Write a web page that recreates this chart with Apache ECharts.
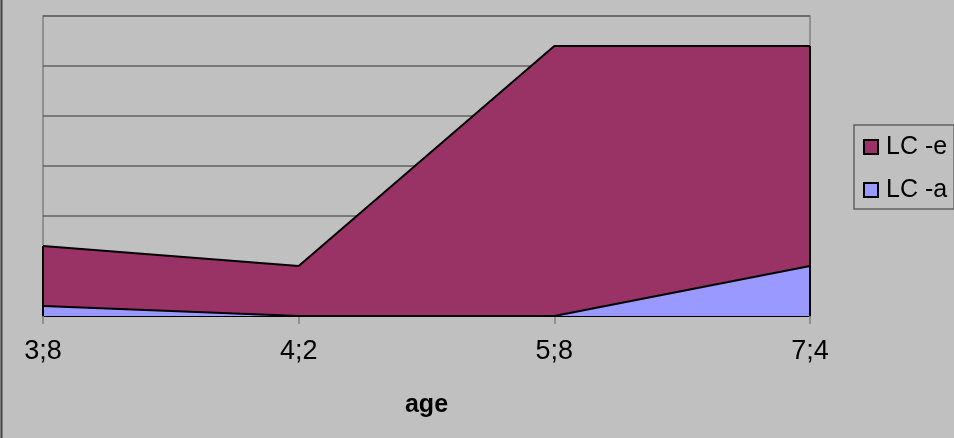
<!DOCTYPE html>
<html>
<head>
<meta charset="utf-8">
<script src="https://cdn.jsdelivr.net/npm/echarts@6/dist/echarts.min.js"></script>
<style>
  html, body { margin: 0; padding: 0; background: #c0c0c0; }
  #chart { width: 954px; height: 438px; }
</style>
</head>
<body>
<div id="chart"></div>
<script>
// Ages at which the samples were taken
const ages = ['3;8', '4;2', '5;8', '7;4'];
// Stacked series values (LC -a at the bottom, LC -e stacked on top)
const lcA = [0.2, 0, 0, 1.0];
const lcE = [1.2, 1.0, 5.4, 4.4];
const yMax = 6;
const yStep = 1;

const totals = ages.map((_, i) => lcA[i] + lcE[i]);

const chart = echarts.init(document.getElementById('chart'), null, { renderer: 'canvas' });

// Vertical outline of the stacked area at a given category
const edgeLine = (i) => [
  { coord: [ages[i], 0] },
  { coord: [ages[i], totals[i]] }
];

chart.setOption({
  backgroundColor: '#c0c0c0',
  animation: false,
  textStyle: { fontFamily: '"Liberation Sans", Arial, sans-serif' },
  graphic: [{
    type: 'line',
    shape: { x1: 1.5, y1: 0, x2: 1.5, y2: 438 },
    style: { stroke: '#404040', lineWidth: 2 }
  }],
  grid: {
    left: 43, right: 144, top: 16, bottom: 122,
    show: true, borderColor: '#808080', borderWidth: 1.5,
    backgroundColor: 'transparent'
  },
  legend: {
    orient: 'vertical',
    left: 854, top: 125,
    data: ['LC -e', 'LC -a'],
    icon: 'rect',
    itemWidth: 14, itemHeight: 14,
    itemGap: 15,
    padding: [8, 7, 5, 9],
    backgroundColor: '#c0c0c0',
    borderColor: '#606060',
    borderWidth: 1.5,
    itemStyle: { borderColor: '#000', borderWidth: 2 },
    textStyle: { fontSize: 25, color: '#000', lineHeight: 28, padding: [0, 0, 0, 3],
                 fontFamily: '"Liberation Sans", Arial, sans-serif' }
  },
  xAxis: {
    type: 'category',
    data: ages,
    boundaryGap: false,
    name: 'age',
    nameLocation: 'middle',
    nameGap: 77,
    nameTextStyle: { fontSize: 25, fontWeight: 'bold', color: '#000' },
    axisLine: { lineStyle: { color: '#000', width: 2 } },
    axisTick: { show: true, length: 8, lineStyle: { color: '#808080', width: 1.5 } },
    axisLabel: { fontSize: 27, color: '#000', margin: 22 },
    splitLine: { show: false }
  },
  yAxis: {
    type: 'value',
    min: 0, max: yMax, interval: yStep,
    axisLine: { show: false },
    axisTick: { show: false },
    axisLabel: { show: false },
    splitLine: { lineStyle: { color: '#606060', width: 1.5 } }
  },
  series: [
    {
      name: 'LC -a',
      type: 'line',
      stack: 'total',
      data: lcA,
      symbol: 'none',
      z: 3,
      lineStyle: { color: '#000', width: 2 },
      areaStyle: { color: '#9999ff', opacity: 1 },
      itemStyle: { color: '#9999ff', borderColor: '#000' }
    },
    {
      name: 'LC -e',
      type: 'line',
      stack: 'total',
      data: lcE,
      symbol: 'none',
      z: 2,
      lineStyle: { color: '#000', width: 2 },
      areaStyle: { color: '#993366', opacity: 1 },
      itemStyle: { color: '#993366', borderColor: '#000' },
      markLine: {
        silent: true,
        symbol: 'none',
        label: { show: false },
        lineStyle: { color: '#000', width: 2, type: 'solid' },
        data: [edgeLine(0), edgeLine(ages.length - 1)]
      }
    }
  ]
});
</script>
</body>
</html>
